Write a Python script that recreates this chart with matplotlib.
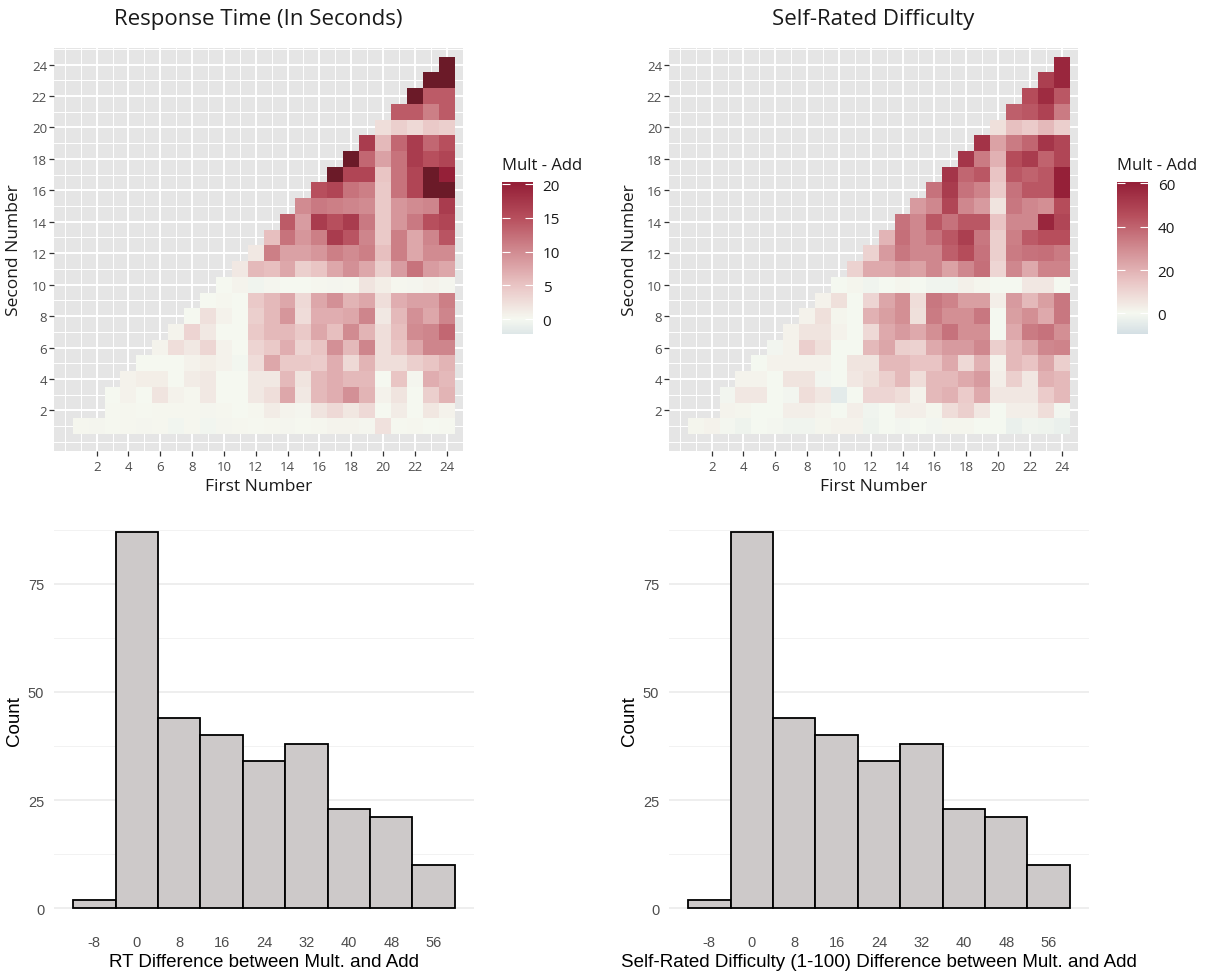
import numpy as np
import matplotlib
matplotlib.use("Agg")
import matplotlib.pyplot as plt
from matplotlib.colors import ListedColormap, Normalize, to_rgb
from matplotlib.cm import ScalarMappable

plt.rcParams["axes.unicode_minus"] = False

W, H = 1215, 978

# ---- data -------------------------------------------------------------
# heatmap rows: value of (mult - add) for second number y, first number x = row_start[y] .. 24
row_start = [1, 3] + list(range(3, 25))

rt_rows = [
    [0.2, 0.3, 0.1, 0.2, 0.3, 0.2, -0.3, 0.2, -0.3, 0.3, 0.2, 0.1, 0.2, 0.3, 0.1, 0.2, 0.5, 0.5, 0.3, 2.2, 0.1, 0.2, 0.0, 0.1],
    [0.1, 0.2, 0.1, 0.2, 0.2, 0.2, 0.3, 0.2, 0.0, 0.2, 1.2, 0.5, 0.3, 2.0, 3.0, 1.7, 3.0, 0.0, 1.2, 0.0, 1.7, 0.7],
    [0, 0.6, 0, 2.0, 0.6, 0.2, 1.5, 0, 0, 1.5, 2.5, 7.5, 1.5, 6, 7, 9.5, 6.5, 0.7, 2, 0, 4, 6.5],
    [0.6, 1, 1, 0, 1.2, 1.5, 0, 0, 1.5, 1.5, 6, 2, 6, 7, 6, 6, 0, 5, 0.3, 7, 6],
    [0, 0, 0, 0.6, 1, 0.7, -0.2, 2.7, 7.5, 4.5, 4.5, 4.3, 7, 3, 6.5, 2.5, 2.5, 4, 5, 6.5],
    [0.5, 2.5, 1.5, 3.3, 0.7, 0, 3.5, 4.5, 7, 3.5, 5, 9.5, 6, 10.5, 2.5, 5, 7.5, 10.5, 10.5],
    [0.5, 3.5, 1.5, 0, 0, 4.5, 6, 6, 4.5, 7.5, 5.5, 10, 6.5, 2.5, 5.5, 10, 10.5, 13],
    [0, 2.3, 0.7, 0, 4, 6, 9, 2.7, 7, 7, 7.5, 10.5, 1.5, 6, 9.5, 7.5, 10.5],
    [0, 0.2, 0, 4.5, 6, 7.5, 3, 7.5, 9.5, 6.5, 7.5, 2.5, 7, 8, 8, 11],
    [0, 0.5, -0.5, 0.3, 0, 0, 0.2, 0.3, 0.2, 2, 1, 0.2, 0.3, 0.6, 0.3],
    [1.5, 6, 5.5, 7.5, 4, 5, 7.5, 9.5, 7.5, 4, 8.5, 12, 8.5, 7.5],
    [1.5, 11, 8, 8, 9, 11, 10, 11, 5.5, 11, 7.5, 10, 10],
    [5.5, 12, 9, 11, 17, 14.5, 10.5, 4.5, 11, 7.5, 10.5, 14.5],
    [14, 8.5, 17, 15, 17, 11.5, 4.5, 9, 11.5, 15, 16],
    [10, 11.5, 11, 10.5, 10, 4.5, 9, 10, 10.5, 17],
    [15, 16, 12, 11, 4.5, 12, 16, 23, 24],
    [23, 16, 16, 5, 12, 16, 23, 20],
    [23, 13, 8, 12, 17, 15, 16],
    [17, 6, 13, 17, 13, 15],
    [2.5, 4, 3, 4.5, 4],
    [14, 14, 11, 14],
    [23, 14, 14],
    [23, 24],
    [24],
]

diff_rows = [
    [1, 2, -0.5, -2, 0, -0.5, -1.5, -1.5, 1, 2, 2, -2, 0, -1, 0, -1, 1, 1, 0, 0, -3, -1.5, -2, -3],
    [1.5, 1, 0, 0, 3, 3, 1.5, 0, 3, -1.5, 0, 3, 3, 1, 8, 12, 5, 0, 3, 3, 8, -1],
    [-1, 5, 5, 0, -1, 8, 5, -5, 0, 10, 10, 8, 2, 18, 20, 13, 22, 5, 5, 5, 13, 18],
    [1.5, 1.5, 0, 6, 6, -1, 0, 5, 7, 12, 18, 8, 18, 18, 22, 26, 3, 12, 5, 20, 18],
    [0, 2, 2, 2, 2, 0, 6, 6, 18, 18, 15, 15, 22, 9, 20, 2, 18, 15, 23, 12],
    [-1, 2, 12, 7, 0, 0, 18, 23, 12, 11, 22, 26, 26, 31, 12, 18, 23, 31, 32],
    [2, 6, 6, 2, 0, 9, 22, 26, 22, 29, 36, 29, 29, 0, 22, 34, 36, 29],
    [2, 7, 1, 0, 20, 25, 29, 7, 34, 29, 29, 35, 0, 25, 29, 22, 35],
    [2, 7, 0, 10, 23, 29, 8, 35, 32, 25, 25, 3, 26, 18, 25, 35],
    [0, 1, -1.5, 0, 1, 0, -1.5, -1.5, 2.5, 1, 0, 0, 5, 5, 0],
    [11, 22, 22, 26, 24, 31, 24, 31, 37, 10, 31, 22, 32, 32],
    [11, 26, 35, 31, 31, 41, 46, 36, 12, 34, 36, 37, 34],
    [19, 37, 31, 36, 43, 50, 35, 12, 33, 42, 45, 45],
    [36, 31, 43, 36, 43, 43, 15, 31, 31, 58, 48],
    [26, 31, 48, 31, 26, 6, 35, 31, 29, 46],
    [36, 51, 36, 32, 13, 36, 43, 43, 60],
    [53, 39, 43, 15, 43, 40, 43, 60],
    [53, 34, 20, 46, 51, 40, 48],
    [54, 24, 34, 39, 53, 48],
    [7, 16, 13, 18, 12],
    [41, 43, 49, 34],
    [46, 56, 43],
    [50, 58],
    [58],
]

bin_centers = [-8, 0, 8, 16, 24, 32, 40, 48, 56]
bin_counts = [2, 87, 44, 40, 34, 38, 23, 21, 10]

# ---- helpers ----------------------------------------------------------
def rect(l, t, r, b):
    return [l / W, 1 - b / H, (r - l) / W, (b - t) / H]

def to_grid(rows):
    z = np.full((24, 24), np.nan)
    for yi, vals in enumerate(rows):
        x0 = row_start[yi]
        z[yi, x0 - 1:x0 - 1 + len(vals)] = vals
    return np.ma.masked_invalid(z)

def make_cmap(vmin, vmax, top):
    f = [-0.16, 0.0, 0.25, 0.5, 0.75, 1.0]
    cols = np.array([to_rgb(c) for c in
                     ["#d4dfe4", "#f5f8f0", "#e9c4c4", "#d18b91", "#b74f5d", "#952038"]])
    vals = np.linspace(vmin, vmax, 256) / top
    rgb = np.column_stack([np.interp(vals, f, cols[:, i]) for i in range(3)])
    cmap = ListedColormap(rgb)
    cmap.set_over("#6b1a28")
    return cmap

hm_font = "Open Sans"
hist_font = "Liberation Sans"

fig = plt.figure(figsize=(W / 100, H / 100), dpi=100)

panels = [
    (0, rt_rows, -2.2, 20.3, 20, [0, 5, 10, 15, 20], "Response Time (In Seconds)"),
    (615, diff_rows, -9.5, 60.6, 60, [0, 20, 40, 60], "Self-Rated Difficulty"),
]

edges = np.arange(0.5, 25.5, 1)

for dx, rows, vmin, vmax, top, cticks, title in panels:
    ax = fig.add_axes(rect(54 + dx, 49, 463 + dx, 452))
    ax.set_facecolor("#e5e5e5")
    cmap = make_cmap(vmin, vmax, top)
    norm = Normalize(vmin=vmin, vmax=vmax)
    ax.pcolormesh(edges, edges, to_grid(rows), cmap=cmap, norm=norm)
    ax.set_xlim(-0.68, 25.03)
    ax.set_ylim(-0.58, 25.05)
    ticks = list(range(2, 25, 2))
    minors = [0] + list(range(1, 26, 2))
    ax.set_xticks(ticks)
    ax.set_yticks(ticks)
    ax.set_xticks(minors, minor=True)
    ax.set_yticks(minors, minor=True)
    ax.grid(which="major", color="white", lw=1.4)
    ax.grid(which="minor", color="white", lw=0.7)
    ax.set_axisbelow(True)
    for s in ax.spines.values():
        s.set_visible(False)
    ax.tick_params(which="major", length=3.5, width=0.9, color="#333333",
                   labelcolor="#4d4d4d", labelsize=9.5)
    ax.tick_params(axis="x", pad=3)
    ax.tick_params(axis="y", pad=1.5)
    ax.tick_params(which="minor", length=0)
    for lab in ax.get_xticklabels() + ax.get_yticklabels():
        lab.set_fontfamily(hm_font)

    fig.text((258.5 + dx) / W, 1 - 19 / H, title, ha="center", va="center",
             fontsize=16, family=hm_font, color="#1a1a1a")
    fig.text((258.5 + dx) / W, 1 - 487 / H, "First Number", ha="center", va="center",
             fontsize=12.5, family=hm_font, color="#1a1a1a")
    fig.text((14.5 + dx) / W, 1 - 250 / H, "Second Number", ha="center", va="center",
             rotation=90, fontsize=12.5, family=hm_font, color="#1a1a1a")

    # colour bar
    cax = fig.add_axes(rect(502 + dx, 183, 533 + dx, 335))
    cb = fig.colorbar(ScalarMappable(norm=norm, cmap=cmap), cax=cax, ticks=cticks)
    cb.outline.set_visible(False)
    cax.yaxis.set_ticks_position("both")
    cax.tick_params(direction="in", length=6, width=0.8, color="white",
                    labelsize=11, labelcolor="#1a1a1a", pad=7,
                    labelleft=False, labelright=True)
    for lab in cax.get_yticklabels():
        lab.set_fontfamily(hm_font)
    fig.text((502 + dx) / W, 1 - 166 / H, "Mult - Add", ha="left", va="center",
             fontsize=12, family=hm_font, color="#1a1a1a")

# ---- histograms -------------------------------------------------------
hist_labels = ["RT Difference between Mult. and Add",
               "Self-Rated Difficulty (1-100) Difference between Mult. and Add"]

for dx, xlabel in zip([0, 615], hist_labels):
    ax = fig.add_axes(rect(54 + dx, 514, 474 + dx, 928))
    ax.bar(bin_centers, bin_counts, width=8, color="#cdc9c9", edgecolor="black", lw=1.3,
           zorder=2)
    ax.set_xlim(-15.6, 63.6)
    ax.set_ylim(-4.35, 91.35)
    ax.set_xticks(bin_centers)
    ax.set_yticks([0, 25, 50, 75])
    ax.set_yticks([12.5, 37.5, 62.5, 87.5], minor=True)
    ax.grid(axis="y", which="major", color="#ebebeb", lw=1.2)
    ax.grid(axis="y", which="minor", color="#f2f2f2", lw=0.7)
    ax.set_axisbelow(True)
    for s in ax.spines.values():
        s.set_visible(False)
    ax.tick_params(which="both", length=0, labelsize=10.5, labelcolor="#4d4d4d")
    ax.tick_params(axis="x", pad=6)
    ax.tick_params(axis="y", pad=7)
    for lab in ax.get_xticklabels() + ax.get_yticklabels():
        lab.set_fontfamily(hist_font)
    fig.text((264 + dx) / W, 1 - 963 / H, xlabel, ha="center", va="center",
             fontsize=13.5, family=hist_font, color="black")
    fig.text((14.5 + dx) / W, 1 - 721 / H, "Count", ha="center", va="center",
             rotation=90, fontsize=13.5, family=hist_font, color="black")

fig.savefig("out.png", dpi=100, facecolor="white")
